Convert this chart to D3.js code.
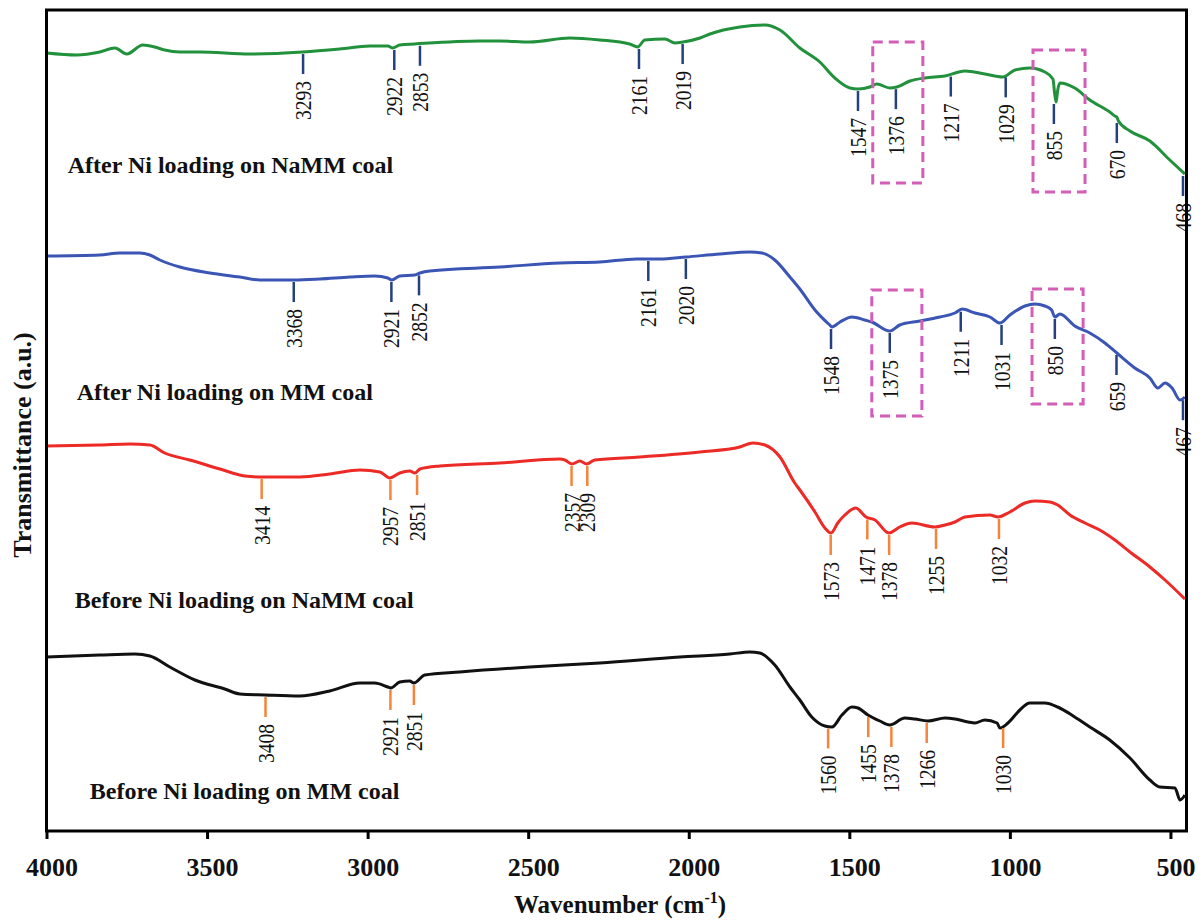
<!DOCTYPE html>
<html>
<head>
<meta charset="utf-8">
<script src="https://cdn.jsdelivr.net/npm/d3@7"></script>
<style>
  body { margin: 0; background: #fff; }
  text { font-family: "Liberation Serif", "Times New Roman", serif; }
</style>
</head>
<body>
<svg id="chart" width="1204" height="922"></svg>
<script>
// FTIR spectra, wavenumber in cm-1, transmittance in a.u.
var greenWn = [4000,3906,3834,3787,3750,3700,3663,3632,3585,3523,3367,3202,3087,2993,2937,2922,2900,2853,2651,2588,2495,2370,2277,2184,2159,2137,2074,2043,2018,1965,1934,1841,1763,1716,1654,1592,1545,1498,1473,1436,1414,1374,1352,1311,1265,1202,1140,1078,1022,984,938,891,866,860,856,851,844,798,751,689,673,667,662,626,564,502,455];
var greenT  = [77.8,77.6,77.9,78.3,77.7,78.6,78.4,78.1,77.9,77.9,77.7,77.9,78.2,78.5,78.5,78.3,78.6,78.7,79.0,79.0,78.9,79.3,79.1,78.7,78.4,79.1,79.2,78.8,78.9,79.3,79.7,80.4,80.6,80.1,78.3,76.9,75.3,74.3,74.2,74.4,74.7,74.3,74.4,75.0,75.3,75.5,76.0,75.7,75.4,76.1,76.3,75.9,75.2,73.6,72.9,74.1,74.8,74.3,73.1,71.9,71.5,71.4,71.0,70.0,69.0,67.1,65.7];

var blueWn = [4000,3834,3772,3709,3678,3647,3585,3491,3398,3336,3230,3149,3055,2978,2937,2925,2900,2853,2837,2806,2588,2401,2277,2162,2090,2009,1903,1810,1772,1732,1685,1654,1607,1561,1554,1529,1492,1452,1430,1374,1343,1280,1218,1171,1149,1109,1062,1031,1000,953,922,891,870,860,844,798,751,704,667,611,564,539,517,495,470,455];
var blueT  = [57.5,57.6,57.8,57.8,57.6,57.1,56.4,55.8,55.4,55.1,55.1,55.2,55.4,55.5,55.3,55.1,55.5,55.6,55.8,56.0,56.4,56.8,56.9,57.2,57.2,57.4,57.7,57.9,57.8,57.1,55.4,54.2,52.1,50.6,50.4,50.9,51.4,51.1,50.9,50.0,50.6,51.0,51.4,51.8,52.2,51.8,51.4,50.8,51.6,52.5,52.7,52.5,52.1,51.4,51.7,50.5,49.8,48.8,47.8,46.3,45.3,44.3,44.8,44.3,43.1,43.4];

var redWn = [4000,3834,3741,3678,3632,3554,3460,3382,3330,3211,3118,3024,2962,2931,2900,2869,2853,2837,2775,2588,2401,2386,2364,2339,2318,2293,2153,1965,1841,1800,1763,1716,1670,1654,1607,1576,1557,1536,1514,1480,1448,1420,1377,1343,1305,1234,1202,1171,1140,1062,1037,1000,953,922,875,851,813,766,720,673,626,564,517,455];
var redT  = [38.5,38.6,38.7,38.6,37.8,37.1,36.2,35.5,35.4,35.4,35.7,36.1,35.9,35.3,35.8,36.0,35.8,36.2,36.5,36.8,37.2,37.1,36.7,37.0,36.7,37.1,37.4,37.9,38.4,38.8,38.6,37.4,34.8,34.1,31.9,30.3,29.8,30.8,31.6,32.3,31.4,31.1,29.8,30.4,30.8,30.4,30.6,30.9,31.4,31.6,31.4,31.9,32.8,33.0,32.9,32.6,31.6,30.8,30.1,29.1,27.9,26.4,25.1,23.2];

var blackWn = [4000,3834,3725,3678,3616,3538,3445,3398,3320,3211,3118,3024,2978,2937,2928,2900,2869,2856,2822,2713,2495,2277,2028,1872,1810,1779,1732,1685,1654,1617,1576,1554,1523,1492,1473,1442,1405,1374,1327,1296,1255,1202,1171,1130,1109,1078,1040,1031,1006,969,938,891,851,798,751,689,626,564,533,486,470,455];
var blackT  = [17.4,17.6,17.7,17.5,16.4,15.1,14.2,13.7,13.6,13.5,14.0,14.8,14.8,14.4,14.3,14.9,15.0,14.8,15.6,15.9,16.4,16.8,17.4,17.7,17.9,17.8,16.6,14.4,13.1,11.4,10.5,10.4,11.6,12.4,12.3,11.6,11.0,10.6,11.3,11.2,11.0,11.3,11.2,10.9,10.8,11.1,10.8,10.3,10.8,12.1,12.8,12.8,12.4,11.4,10.4,9.1,7.3,5.1,4.4,4.3,3.1,3.6];

// peak labels and where their marks sit on the wavenumber axis
var greenPeakLabels = ["3293","2922","2853","2161","2019","1547","1376","1217","1029","855","670","468"];
var greenPeakAt     = [3201,2917,2837,2155,2019,1473,1355,1184,1013,863,667,461];
var bluePeakLabels  = ["3368","2921","2852","2161","2020","1548","1375","1211","1031","850","659","467"];
var bluePeakAt      = [3230,2926,2840,2126,2009,1557,1374,1153,1026,860,668,461];
var redPeakLabels   = ["3414","2957","2851","2357","2309","1573","1471","1378","1255","1032"];
var redPeakAt       = [3330,2929,2846,2365,2316,1558,1444,1376,1230,1034];
var blackPeakLabels = ["3408","2921","2851","1560","1455","1378","1266","1030"];
var blackPeakAt     = [3318,2929,2856,1566,1441,1369,1259,1021];

var seriesNames = ["After Ni loading on NaMM coal", "After Ni loading on MM coal",
                   "Before Ni loading on NaMM coal", "Before Ni loading on MM coal"];

// highlighted regions (wavenumber from/to, transmittance top/bottom)
var highlightWn = [[1427,1271],[928,766],[1430,1274],[931,772]];
var highlightT  = [[78.9,64.8],[78.1,63.9],[54.1,41.5],[54.2,42.7]];

var xTicks = [4000,3500,3000,2500,2000,1500,1000,500];

var svg = d3.select("#chart");
var x = d3.scaleLinear().domain([4000,450]).range([46.5,1186.5]);
var y = d3.scaleLinear().domain([0,82.1]).range([831,10]);

var series = [
  {wn: greenWn, t: greenT, color: "#22913c", mark: "#24407f", labels: greenPeakLabels, at: greenPeakAt, name: seriesNames[0], nx: 3934, ny: 65.8},
  {wn: blueWn,  t: blueT,  color: "#3b55b5", mark: "#24407f", labels: bluePeakLabels,  at: bluePeakAt,  name: seriesNames[1], nx: 3906, ny: 43.1},
  {wn: redWn,   t: redT,   color: "#ec2a26", mark: "#f5843a", labels: redPeakLabels,   at: redPeakAt,   name: seriesNames[2], nx: 3912, ny: 22.3},
  {wn: blackWn, t: blackT, color: "#111111", mark: "#f5843a", labels: blackPeakLabels, at: blackPeakAt, name: seriesNames[3], nx: 3865, ny: 3.2}
];

// value of a curve at wavenumber w (linear between read points)
function valueAt(wn, t, w) {
  for (var i = 0; i < wn.length - 1; i++) {
    if (wn[i] >= w && wn[i+1] <= w) {
      var f = (wn[i] - w) / (wn[i] - wn[i+1]);
      return t[i] + f * (t[i+1] - t[i]);
    }
  }
  return t[t.length - 1];
}
// lowest point of the curve close to w, so marks start under small dips
function lowAround(wn, t, w) {
  var v = valueAt(wn, t, w);
  wn.forEach(function(d, i) { if (Math.abs(d - w) <= 8) v = Math.min(v, t[i]); });
  return v;
}

var line = d3.line()
  .x(d => x(d[0]))
  .y(d => y(d[1]))
  .curve(d3.curveMonotoneX);

series.forEach(function(s) {
  svg.append("path")
    .datum(d3.zip(s.wn, s.t))
    .attr("d", line)
    .attr("fill", "none")
    .attr("stroke", s.color)
    .attr("stroke-width", 3)
    .attr("stroke-linejoin", "round");

  var peaks = s.labels.map((l, i) => ({label: l, at: s.at[i]}));
  var g = svg.append("g").selectAll("g").data(peaks).enter().append("g");
  g.each(function(p) {
    var px = x(p.at);
    var top = y(lowAround(s.wn, s.t, p.at)) + 2;
    var sel = d3.select(this);
    sel.append("line")
      .attr("x1", px).attr("x2", px)
      .attr("y1", top).attr("y2", top + 20)
      .attr("stroke", s.mark)
      .attr("stroke-width", 2.5);
    sel.append("text")
      .attr("transform", "translate(" + px + "," + (top + 27) + ") rotate(-90) scale(0.85,1)")
      .attr("text-anchor", "end")
      .attr("dy", "0.35em")
      .style("font-size", "23px")
      .attr("fill", "#111")
      .text(p.label);
  });

  svg.append("text")
    .attr("x", x(s.nx))
    .attr("y", y(s.ny))
    .style("font-size", "24px")
    .style("font-weight", "bold")
    .attr("fill", "#111")
    .text(s.name);
});

// dashed highlight boxes
svg.append("g").selectAll("rect")
  .data(highlightWn.map((w, i) => ({wn: w, t: highlightT[i]})))
  .enter().append("rect")
  .attr("x", d => x(d.wn[0]))
  .attr("width", d => x(d.wn[1]) - x(d.wn[0]))
  .attr("y", d => y(d.t[0]))
  .attr("height", d => y(d.t[1]) - y(d.t[0]))
  .attr("fill", "none")
  .attr("stroke", "#d45db6")
  .attr("stroke-width", 3)
  .attr("stroke-dasharray", "10,6");

// frame
svg.append("rect")
  .attr("x", x.range()[0]).attr("y", y.range()[1])
  .attr("width", x.range()[1] - x.range()[0])
  .attr("height", y.range()[0] - y.range()[1])
  .attr("fill", "none")
  .attr("stroke", "#000")
  .attr("stroke-width", 3);

var xAxis = svg.append("g")
  .attr("transform", "translate(0," + y.range()[0] + ")")
  .call(d3.axisBottom(x).tickValues(xTicks).tickSize(8).tickSizeOuter(0).tickPadding(19).tickFormat(d3.format("d")));
xAxis.select(".domain").remove();
xAxis.selectAll(".tick line").attr("stroke", "#000").attr("stroke-width", 3);
xAxis.selectAll(".tick text")
  .attr("dx", 5)
  .attr("fill", "#111")
  .style("font-family", "'Liberation Serif', 'Times New Roman', serif")
  .style("font-size", "26px")
  .style("font-weight", "bold");

var xt = svg.append("text")
  .attr("x", 620).attr("y", 913)
  .attr("text-anchor", "middle")
  .style("font-size", "25px")
  .style("font-weight", "bold")
  .attr("fill", "#111");
xt.append("tspan").text("Wavenumber (cm");
xt.append("tspan").attr("dy", -10).style("font-size", "16px").text("-1");
xt.append("tspan").attr("dy", 10).text(")");

svg.append("text")
  .attr("transform", "translate(31,445) rotate(-90)")
  .attr("text-anchor", "middle")
  .style("font-size", "26px")
  .style("font-weight", "bold")
  .attr("fill", "#111")
  .text("Transmittance (a.u.)");
</script>
</body>
</html>
